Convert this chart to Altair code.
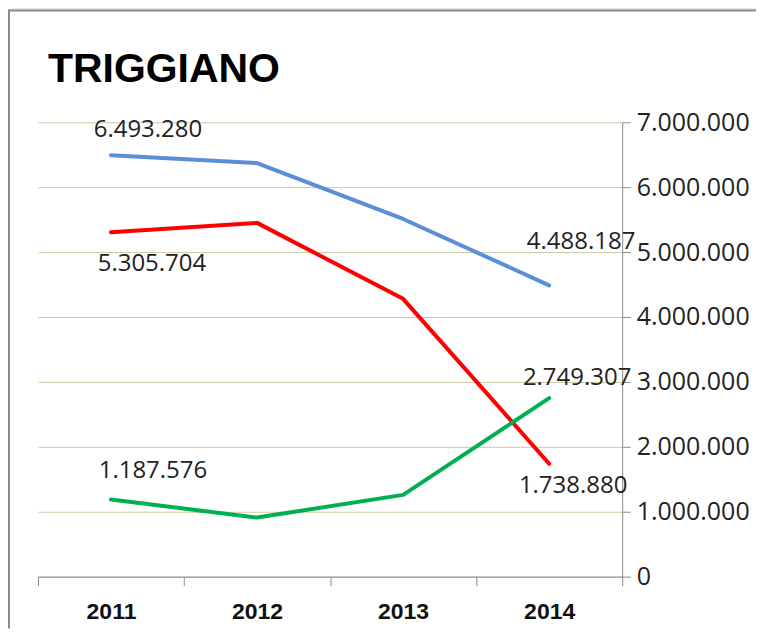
import altair as alt
import pandas as pd

years = ["2011", "2012", "2013", "2014"]
series_names = ["blue", "red", "green"]
blue_vals = [6493280, 6370000, 5510000, 4488187]
red_vals = [5305704, 5450000, 4280000, 1738880]
green_vals = [1187576, 910000, 1260000, 2749307]
colors = ["#5A8FD8", "#FF0000", "#00B050"]
y_ticks = [0, 1000000, 2000000, 3000000, 4000000, 5000000, 6000000, 7000000]

# labels shown: (series, year index)
label_points = [("blue", 0), ("red", 0), ("green", 0), ("blue", 3), ("green", 3), ("red", 3)]
label_offsets = [(37, -18), (41, 39), (42, -22), (32, -36), (28, -13), (24, 29)]

vals = {"blue": blue_vals, "red": red_vals, "green": green_vals}
rows = []
for s in series_names:
    for y, v in zip(years, vals[s]):
        rows.append({"series": s, "year": y, "value": v})
df = pd.DataFrame(rows)

W, H = 585, 455
PAD = {"left": 30, "top": 114, "right": 134, "bottom": 52}

label_expr = "replace(replace(format(datum.value, ','), ',', '.'), ',', '.')"

x_scale = alt.Scale(type="band", paddingInner=0, paddingOuter=0, domain=years)
y_scale = alt.Scale(domain=[0, 7000000], nice=False)

x_axis = alt.Axis(title=None, labelAngle=0, tickBand="extent", grid=False,
                  domainColor="#8C8C8C", tickColor="#8C8C8C", tickSize=9,
                  labelFont="Liberation Sans", labelFontWeight="bold",
                  labelFontSize=23, labelPadding=15, labelColor="#111111")
y_axis = alt.Axis(title=None, orient="right", values=y_ticks, grid=True,
                  gridColor="#CEC7A6", gridWidth=1, domainColor="#8C8C8C",
                  tickColor="#8C8C8C", tickSize=8, labelPadding=6,
                  labelFont="Open Sans", labelFontSize=25, labelColor="#222222",
                  labelExpr=label_expr)

X = alt.X("year:O", bandPosition=0.5, scale=x_scale, axis=x_axis)
Y = alt.Y("value:Q", scale=y_scale, axis=y_axis)

lines = alt.Chart(df).mark_line(strokeWidth=4, strokeCap="round", strokeJoin="round").encode(
    x=X, y=Y,
    color=alt.Color("series:N", scale=alt.Scale(domain=series_names, range=colors), legend=None),
    detail="series:N",
)

layers = [lines]
for (s, i), (dx, dy) in zip(label_points, label_offsets):
    sub = df[(df.series == s) & (df.year == years[i])]
    t = alt.Chart(sub).transform_calculate(
        lbl=label_expr
    ).mark_text(
        font="Open Sans", fontSize=24, color="#222222", align="center",
        baseline="alphabetic", dx=dx, dy=dy,
    ).encode(
        x=alt.X("year:O", bandPosition=0.5, scale=x_scale, axis=x_axis),
        y=alt.Y("value:Q", scale=y_scale, axis=y_axis),
        text="lbl:N",
    )
    layers.append(t)

one = alt.Data(values=[{}])
title = alt.Chart(one).mark_text(
    text="TRIGGIANO", font="Liberation Sans", fontWeight="bold", fontSize=41,
    color="#000000", align="left", baseline="alphabetic",
).encode(x=alt.value(10), y=alt.value(-40))

frame_top_band = alt.Chart(one).mark_rect(color="#D6D3C6").encode(
    x=alt.value(-28), x2=alt.value(W + PAD["right"]), y=alt.value(-114), y2=alt.value(-113))
frame_top_line = alt.Chart(one).mark_rule(color="#8A8A8A", strokeWidth=2).encode(
    x=alt.value(-30), x2=alt.value(W + PAD["right"]), y=alt.value(-112))
frame_left_line = alt.Chart(one).mark_rule(color="#8A8A8A", strokeWidth=2).encode(
    x=alt.value(-29), y=alt.value(-113), y2=alt.value(H + PAD["bottom"]))

chart = alt.layer(*layers, title, frame_top_band, frame_top_line, frame_left_line).properties(
    width=W, height=H,
    padding=PAD,
    autosize=alt.AutoSizeParams(type="none"),
    background="white",
).configure_view(stroke=None)

chart.save("out.html", embed_options={"renderer": "svg", "actions": False})
